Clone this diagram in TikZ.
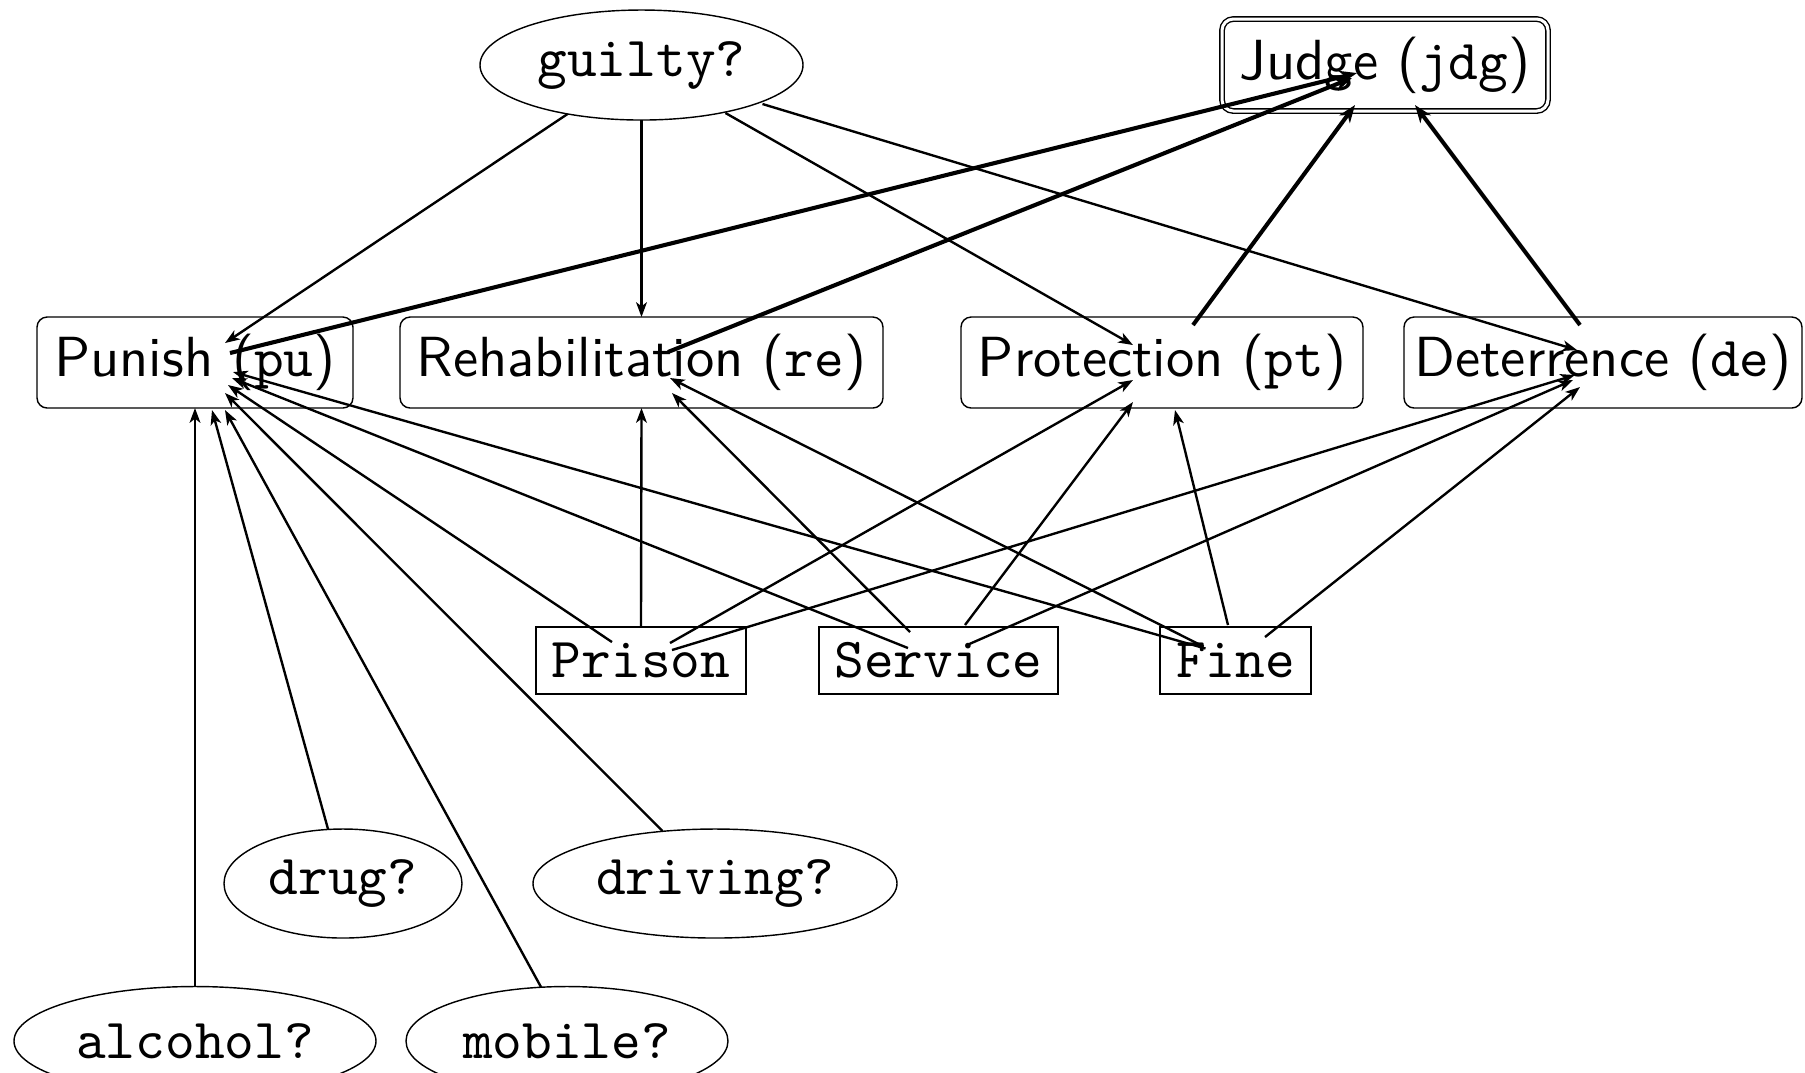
\documentclass[tikz,border=0pt]{standalone}
\usetikzlibrary{arrows.meta,shapes.geometric}
% one drawing unit = one pixel of the 1805 x 1072 layout
\newcommand\pxu{0.1768pt}
\begin{document}
\begin{tikzpicture}[x=0.1768pt,y=-0.1768pt,
  every node/.style={inner sep=0pt,outer sep=0pt,line width=0.25pt},
  chance/.style={draw,ellipse,font=\ttfamily},
  goal/.style={draw,rounded corners=1.8pt,minimum height=91*\pxu,font=\sffamily},
  judge/.style={draw,double,double distance=3*\pxu,rounded corners=2pt,
    minimum width=326*\pxu,minimum height=92*\pxu,font=\sffamily},
  option/.style={draw,minimum height=67*\pxu,font=\ttfamily},
  arr/.style={-{Stealth[length=2.6pt,width=1.9pt,inset=0.7pt]},line width=0.42pt},
  jarr/.style={-{Stealth[length=3.1pt,width=2.3pt,inset=0.9pt]},line width=0.72pt}]
\useasboundingbox (0,0) rectangle (1805,1072);

% decision and evidence
\node[chance,minimum width=323*\pxu,minimum height=110*\pxu] (g) at (641.5,65) {guilty?};
\node[judge] (jdg) at (1385,65) {Judge (\texttt{jdg})};

% sentencing goals
\node[goal,minimum width=316*\pxu] (pu) at (195,362.5) {Punish (\texttt{pu})};
\node[goal,minimum width=483*\pxu] (re) at (641.5,362.5) {Rehabilitation (\texttt{re})};
\node[goal,minimum width=402*\pxu] (pt) at (1162,362.5) {Protection (\texttt{pt})};
\node[goal,minimum width=398*\pxu] (de) at (1603,362.5) {Deterrence (\texttt{de})};

% sentences
\node[option,minimum width=210*\pxu] (pr) at (641,660.5) {Prison};
\node[option,minimum width=239*\pxu] (sv) at (938.5,660.5) {Service};
\node[option,minimum width=151*\pxu] (fn) at (1235.5,660.5) {Fine};

% offence types
\node[chance,minimum width=238*\pxu,minimum height=109*\pxu] (drug) at (343,883.5) {drug?};
\node[chance,minimum width=364*\pxu,minimum height=109*\pxu] (driving) at (715,883.5) {driving?};
\node[chance,minimum width=362*\pxu,minimum height=109*\pxu] (alcohol) at (195,1041) {alcohol?};
\node[chance,minimum width=322*\pxu,minimum height=109*\pxu] (mobile) at (567,1041) {mobile?};

% guilty? feeds every goal
\draw[arr] ([shift={(-74,49)}]g.center) -- ([shift={(30,-19.5)}]pu.center);
\draw[arr] (g.south) -- (re.north);
\draw[arr] ([shift={(84,48)}]g.center) -- ([shift={(-29,-17.5)}]pt.center);
\draw[arr] ([shift={(121,39)}]g.center) -- ([shift={(-26,-12.5)}]de.center);

% goals feed the judge
\draw[jarr] ([shift={(35,-9.5)}]pu.center) -- ([shift={(-28,8)}]jdg.center);
\draw[jarr] ([shift={(26.5,-10.5)}]re.center) -- ([shift={(-33,13)}]jdg.center);
\draw[jarr] ([shift={(31,-37.5)}]pt.center) -- ([shift={(-30,40)}]jdg.center);
\draw[jarr] ([shift={(-23,-37.5)}]de.center) -- ([shift={(30,40)}]jdg.center);

% sentences feed the goals
\draw[arr] ([shift={(-29,-18.5)}]pr.center) -- ([shift={(33,22.5)}]pu.center);
\draw[arr] (pr.north) -- (re.south);
\draw[arr] ([shift={(29,-17.5)}]pr.center) -- ([shift={(-29,17.5)}]pt.center);
\draw[arr] ([shift={(31,-10.5)}]pr.center) -- ([shift={(-28,12.5)}]de.center);

\draw[arr] ([shift={(-30.5,-12.5)}]sv.center) -- ([shift={(37,15.5)}]pu.center);
\draw[arr] ([shift={(-28.5,-28.5)}]sv.center) -- ([shift={(30.5,30.5)}]re.center);
\draw[arr] ([shift={(26.5,-35.5)}]sv.center) -- ([shift={(-29,39.5)}]pt.center);
\draw[arr] ([shift={(28.5,-15.5)}]sv.center) -- ([shift={(-30,17.5)}]de.center);

\draw[arr] ([shift={(-30,-12)}]fn.center) -- ([shift={(38,9.5)}]pu.center);
\draw[arr] ([shift={(-32,-14)}]fn.center) -- ([shift={(28.5,15.5)}]re.center);
\draw[arr] ([shift={(-7.5,-35.5)}]fn.center) -- ([shift={(13,47.5)}]pt.center);
\draw[arr] ([shift={(29.5,-23.5)}]fn.center) -- ([shift={(-23,24.5)}]de.center);

% offence types feed punishment
\draw[arr] (alcohol.north) -- (pu.south);
\draw[arr] ([shift={(-15,-54.5)}]drug.center) -- ([shift={(17,47.5)}]pu.center);
\draw[arr] ([shift={(-26,-54)}]mobile.center) -- ([shift={(30,47.5)}]pu.center);
\draw[arr] ([shift={(-52.5,-52.5)}]driving.center) -- ([shift={(30,30.5)}]pu.center);
\end{tikzpicture}
\end{document}
